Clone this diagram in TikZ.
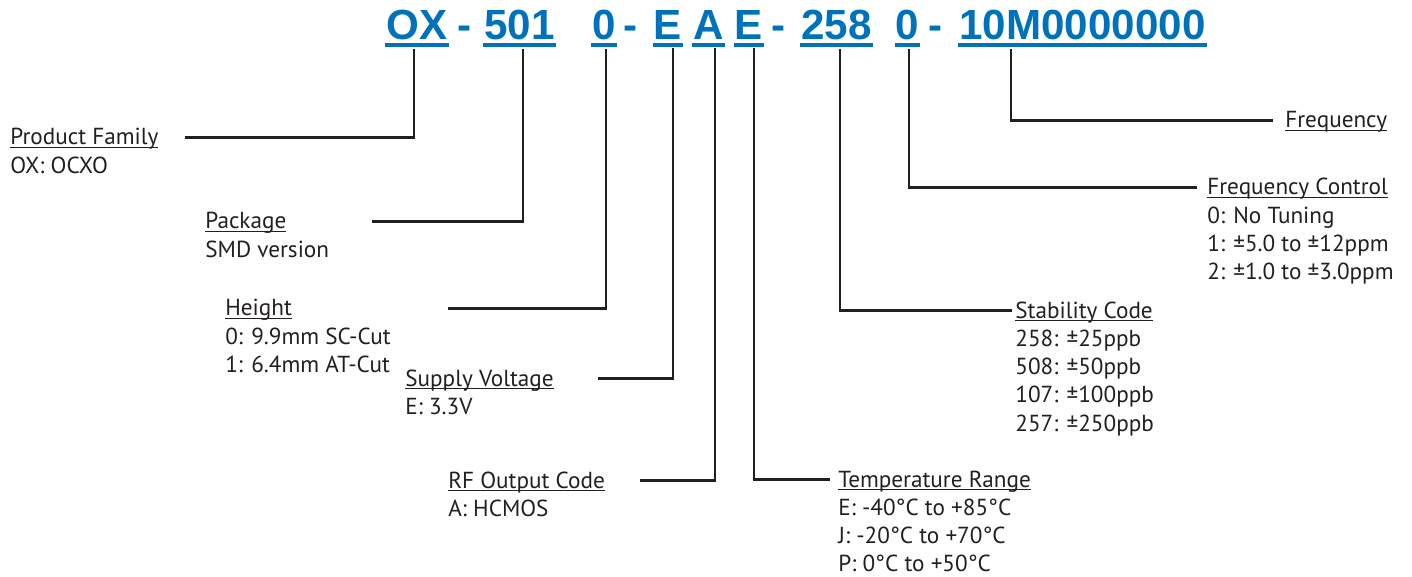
\documentclass[tikz,border=0pt]{standalone}
\usepackage{fontspec}
\setmainfont{PT Sans}
\newfontfamily\hdfamily{Liberation Sans}
\usepackage{tikz}
\definecolor{brand}{HTML}{0072BC}
\definecolor{ink}{HTML}{231F20}
\newcommand{\lblsize}{\fontsize{13.2}{16.1}\selectfont}
\tikzset{
  code/.style = {inner sep=0pt, anchor=base, text=brand,
                 font=\hdfamily\bfseries\fontsize{24}{28}\selectfont},
  bar/.style  = {draw=brand, line width=2.3pt},
  info/.style = {inner sep=0pt, anchor=base west, text=ink, font=\lblsize},
  lead/.style = {draw=ink, line width=1.2pt, shorten <=0.16cm},
}
\newcommand{\infobox}[2]{\begin{tabular}[t]{@{}l@{}}\underline{\smash{#1}}\\#2\end{tabular}}

\begin{document}
\begin{tikzpicture}[x=0.02cm, y=-0.02cm]
  \useasboundingbox (0,0) rectangle (1412,577);

  % part number
  \node[code] (cox)  at (417,40)    {OX};
  \node[code] (d1)   at (465,40)    {-};
  \node[code] (cpkg) at (519.5,40)  {501};
  \node[code] (cht)  at (604,40)    {0};
  \node[code] (d2)   at (631,40)    {-};
  \node[code] (csv)  at (668,40)    {E};
  \node[code] (crf)  at (708.5,40)  {A};
  \node[code] (ctr)  at (749,40)    {E};
  \node[code] (d3)   at (779,40)    {-};
  \node[code] (csc)  at (836.5,40)  {258};
  \node[code] (cfc)  at (907.5,40)  {0};
  \node[code] (d4)   at (936,40)    {-};
  \node[code] (cfr)  at (1082.5,40) {10M0000000};
  \foreach \n in {cox,cpkg,cht,csv,crf,ctr,csc,cfc,cfr}
    \draw[bar] ([xshift=-0.5pt,yshift=-3.1pt]\n.base west) -- ([xshift=0.5pt,yshift=-3.1pt]\n.base east);

  % field descriptions
  \node[info] (fam) at (10,145)   {\infobox{Product Family}{OX: OCXO}};
  \node[info] (pkg) at (205,229)  {\infobox{Package}{SMD version}};
  \node[info] (ht)  at (225,316)  {\infobox{Height}{0: 9.9mm SC-Cut\\1: 6.4mm AT-Cut}};
  \node[info] (sv)  at (405,386)  {\infobox{Supply Voltage}{E: 3.3V}};
  \node[info] (rf)  at (448,488)  {\infobox{RF Output Code}{A: HCMOS}};
  \node[info] (tr)  at (838,487)  {\infobox{Temperature Range}{E: -40°C to +85°C\\J: -20°C to +70°C\\P: 0°C to +50°C}};
  \node[info] (sc)  at (1015,318) {\infobox{Stability Code}{258: ±25ppb\\508: ±50ppb\\107: ±100ppb\\257: ±250ppb}};
  \node[info] (fc)  at (1207,195) {\infobox{Frequency Control}{0: No Tuning\\1: ±5.0 to ±12ppm\\2: ±1.0 to ±3.0ppm}};
  \node[info] (fr)  at (1285,128) {\infobox{Frequency}{}};

  % leaders
  \draw[lead] ([xshift=-0.06cm]cox.south) |- ([xshift=3.5cm,yshift=0.15cm]fam.base west);
  \draw[lead] ([xshift=0.07cm]cpkg.south) |- ([xshift=3.34cm,yshift=0.15cm]pkg.base west);
  \draw[lead] ([xshift=0.04cm]cht.south)  |- ([xshift=4.46cm,yshift=0.15cm]ht.base west);
  \draw[lead] ([xshift=0.1cm]csv.south)   |- ([xshift=3.86cm,yshift=0.15cm]sv.base west);
  \draw[lead] ([xshift=0.13cm]crf.south)  |- ([xshift=3.84cm,yshift=0.15cm]rf.base west);
  \draw[lead] ([xshift=0.1cm]ctr.south)   |- ([xshift=-0.16cm,yshift=0.15cm]tr.base west);
  \draw[lead] ([xshift=0.07cm]csc.south)  |- ([xshift=-0.06cm,yshift=0.15cm]sc.base west);
  \draw[lead] ([xshift=0.03cm]cfc.south)  |- ([xshift=-0.2cm,yshift=0.15cm]fc.base west);
  \draw[lead] ([xshift=-1.43cm]cfr.south) |- ([xshift=-0.24cm,yshift=0.15cm]fr.base west);
\end{tikzpicture}
\end{document}
